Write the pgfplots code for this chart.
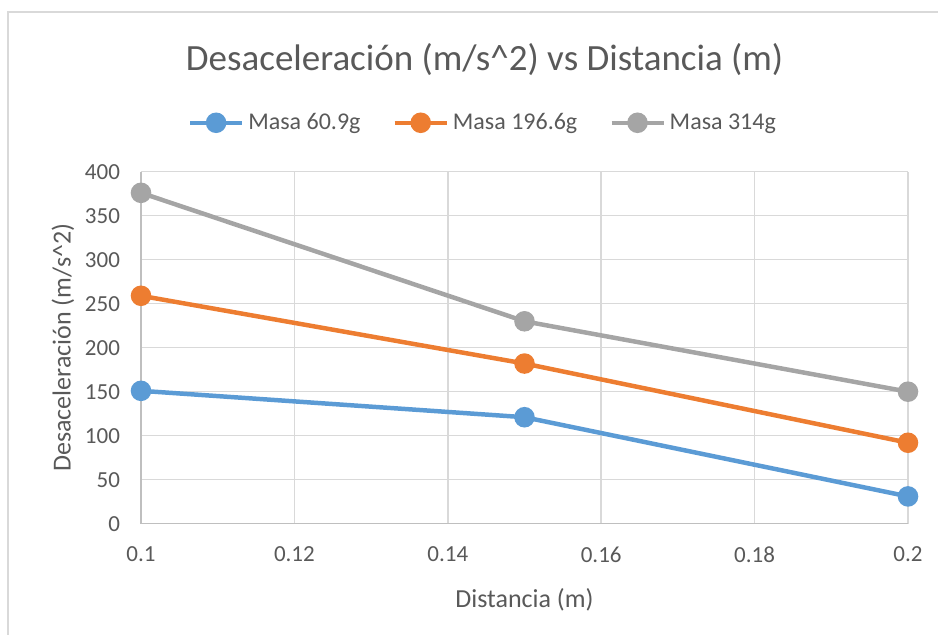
\documentclass[border=0pt]{standalone}
\usepackage{pgfplots}
\pgfplotsset{compat=1.18}
\usepackage{fontspec}
\setmainfont{Carlito}
\definecolor{serblue}{HTML}{5B9BD5}
\definecolor{serorange}{HTML}{ED7D31}
\definecolor{sergray}{HTML}{A5A5A5}
\definecolor{txt}{HTML}{595959}
\definecolor{gridc}{HTML}{D9D9D9}
\definecolor{axc}{HTML}{BFBFBF}
\begin{document}
\begin{tikzpicture}
\begin{axis}[name=ax,
  scale only axis, width=383.5bp, height=176bp,
  xmin=0.1, xmax=0.2, ymin=0, ymax=400,
  xtick={0.1,0.12,0.14,0.16,0.18,0.2},
  ytick={0,50,100,150,200,250,300,350,400},
  grid=major, major grid style={gridc, line width=0.75bp},
  axis lines=left, axis line style={axc, line width=0.75bp, -},
  major tick length=0pt,
  /pgf/number format/assume math mode=true,
  xticklabel style={/pgf/number format/fixed, /pgf/number format/precision=2, yshift=-8bp},
  yticklabel style={xshift=-7bp},
  tick label style={font=\fontsize{11.5bp}{13bp}\selectfont, text=txt},
  label style={font=\fontsize{13bp}{15bp}\selectfont, text=txt},
  xlabel={Distancia (m)},
  ylabel={Desaceleración (m/s\textasciicircum 2)},
  xlabel style={at={(axis description cs:0.5,-0.216)}, anchor=center},
  ylabel style={at={(axis description cs:-0.1017,0.5)}, anchor=center},
  title={Desaceleración (m/s\textasciicircum 2) vs Distancia (m)},
  title style={at={(axis description cs:0.448,1.286)}, anchor=center,
    font=\fontsize{18.5bp}{21bp}\selectfont, text=txt},
  legend columns=3,
  legend style={at={(axis description cs:0.447,1.139)}, anchor=center,
    draw=none, fill=none, font=\fontsize{12bp}{14bp}\selectfont, text=txt,
    /tikz/every even column/.append style={column sep=14bp}},
  legend cell align=left,
  legend image code/.code={\draw[mark repeat=2,mark phase=2,#1] plot coordinates {(0bp,0bp)(13bp,0bp)(26bp,0bp)};},
  clip=false,
]
\addplot[serblue, line width=2.25pt, mark=*, mark size=4bp, mark options={solid}]
  coordinates {(0.1,151) (0.15,121) (0.2,31)};
\addplot[serorange, line width=2.25pt, mark=*, mark size=4bp, mark options={solid}]
  coordinates {(0.1,259) (0.15,182) (0.2,92)};
\addplot[sergray, line width=2.25pt, mark=*, mark size=4bp, mark options={solid}]
  coordinates {(0.1,376) (0.15,230) (0.2,150)};
\legend{Masa 60.9g, Masa 196.6g, Masa 314g}
\end{axis}
% chart frame (cropped on right and bottom)
\draw[gridc, line width=1bp] ([shift={(-66.5bp,-70bp)}]ax.south west) -- ([shift={(-66.5bp,256bp)}]ax.south west) -- ([shift={(420bp,256bp)}]ax.south west);
\pgfresetboundingbox
\path[use as bounding box] ([shift={(-70.5bp,-55.65bp)}]ax.south west) rectangle ([shift={(398.5bp,261.85bp)}]ax.south west);
\end{tikzpicture}
\end{document}
